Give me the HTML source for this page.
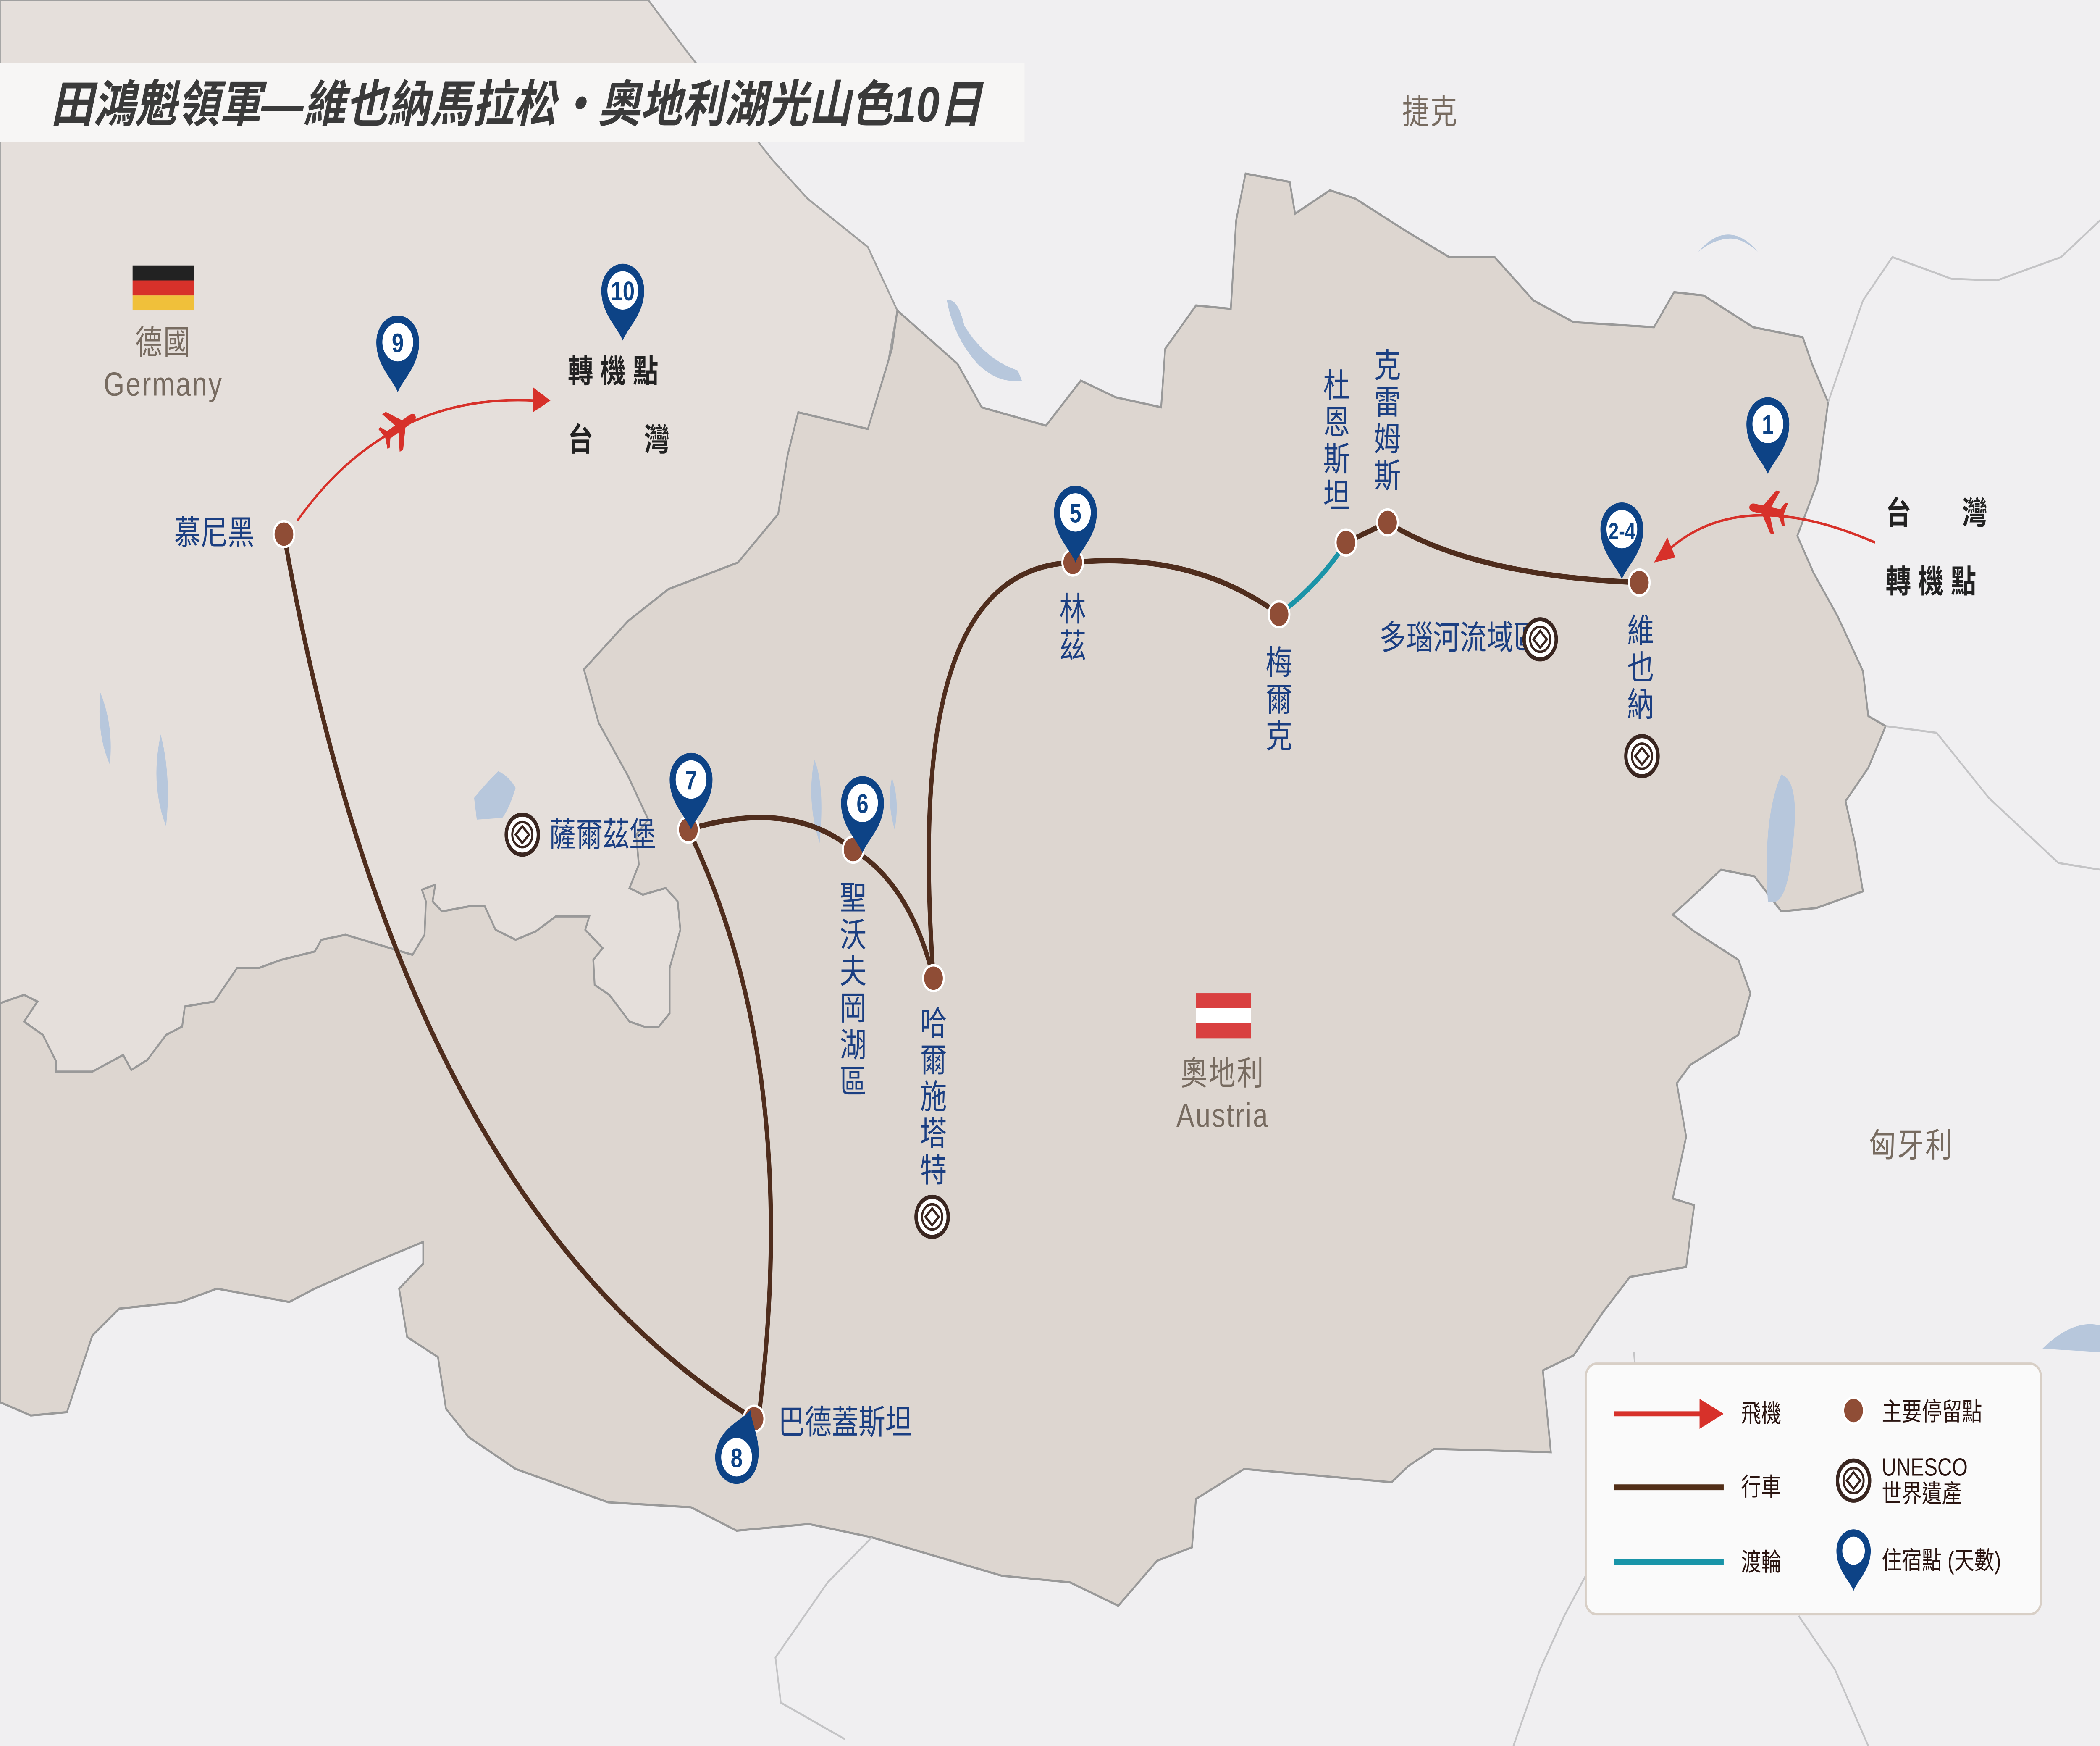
<!DOCTYPE html>
<html><head><meta charset="utf-8"><style>
html,body{margin:0;padding:0;background:#f0eff1;width:100%;height:100%;overflow:hidden;}
svg{display:block;position:absolute;left:0;top:0;width:100vw;height:100vh;}
text{font-family:"Liberation Sans","Noto Sans CJK TC",sans-serif;}
.b{fill:#1b3f82;font-size:20px;}
.g{fill:#776b60;font-size:20px;letter-spacing:1px;}
.k{fill:#222;font-size:19px;font-weight:bold;}
.lg{fill:#2a1410;font-size:15px;}
</style></head><body>
<svg viewBox="0 0 1568 1046" preserveAspectRatio="none" xmlns="http://www.w3.org/2000/svg">
<defs>
<g id="pin"><path d="M0,30 C-4,22 -16,14 -16,0 A16,16 0 1,1 16,0 C16,14 4,22 0,30 Z" fill="#0d4386"/><circle r="11.5" fill="#fff"/></g>
<g id="dot"><circle r="8.5" fill="#fff"/><circle r="7" fill="#8f4d36"/></g>
<g id="un"><circle r="12" fill="#fff" stroke="#3a2620" stroke-width="2.5"/><circle r="7.5" fill="none" stroke="#3a2620" stroke-width="1.5"/><path d="M0,-5 L5,0 L0,5 L-5,0Z" fill="none" stroke="#3a2620" stroke-width="1.5"/></g>
<path id="plane" d="M14,0 C14,-2 12,-2.5 10,-2.5 L4,-2.5 L-4,-13 L-7,-13 L-2,-2.5 L-9,-2.5 L-12,-7 L-14,-7 L-12,0 L-14,7 L-12,7 L-9,2.5 L-2,2.5 L-7,13 L-4,13 L4,2.5 L10,2.5 C12,2.5 14,2 14,0Z" fill="#d7312a"/>
</defs>
<rect width="1568" height="1046" fill="#f0eff1"/>
<!-- Germany -->
<path d="M0,0 L484,0 L514,32 L577,96 L603,119 L648,148 L670,186 L600,500 L530,650 L0,650Z" fill="#e5dfdb" stroke="#a0a0a0" stroke-width="1.2"/>
<!-- Austria -->
<path d="M0,601 L18,596 L28,600 L18,612 L32,620 L42,636 L42,642 L69,642 L92,632 L98,641 L110,635 L124,620 L136,615 L138,603 L160,600 L177,580 L193,580 L210,575 L235,570 L240,563 L258,560 L308,572 L317,560 L318,540 L315,533 L325,530 L323,540 L330,546 L350,543 L362,543 L370,557 L385,563 L400,558 L415,549 L440,549 L437,557 L450,568 L443,575 L444,590 L455,596 L470,612 L481,615 L492,615 L500,607 L500,580 L508,557 L506,540 L497,532 L480,536 L470,532 L477,518 L475,500 L484,491 L469,465 L447,433 L436,401 L469,372 L499,353 L551,337 L581,308 L588,273 L596,247 L648,257 L666,209 L670,186 L715,218 L733,244 L781,255 L807,228 L833,238 L867,244 L870,209 L893,183 L919,185 L923,132 L930,104 L963,109 L967,128 L993,114 L1012,119 L1049,138 L1082,154 L1116,154 L1145,180 L1175,193 L1235,196 L1250,175 L1272,177 L1309,196 L1346,202 L1353,218 L1365,241 L1357,289 L1342,321 L1354,343 L1372,369 L1391,402 L1395,429 L1408,435 L1395,460 L1378,480 L1385,505 L1391,534 L1356,544 L1330,546 L1310,525 L1285,521 L1268,534 L1249,548 L1265,558 L1298,575 L1307,595 L1298,620 L1262,638 L1252,649 L1259,681 L1249,718 L1265,722 L1259,759 L1217,765 L1197,786 L1175,812 L1152,821 L1158,870 L1071,868 L1052,878 L1039,888 L929,880 L893,898 L890,927 L864,935 L835,962 L799,948 L748,944 L651,921 L604,913 L550,917 L516,903 L454,900 L385,880 L350,861 L333,844 L327,813 L304,801 L298,772 L316,757 L316,744 L277,757 L235,772 L216,780 L162,772 L135,780 L89,784 L69,800 L50,846 L23,848 L0,840Z" fill="#ddd6d0" stroke="#999" stroke-width="1.3"/>
<!-- neighbour borders -->
<g fill="none" stroke="#c4c4c6" stroke-width="1.2">
<path d="M1365,241 L1391,180 L1413,154 L1457,167 L1491,168 L1539,154 L1568,132"/>
<path d="M1408,435 L1446,439 L1485,478 L1537,517 L1568,521"/>
<path d="M1220,810 L1225,860 L1200,920 L1168,968 L1150,1000 L1130,1046"/>
<path d="M1343,968 L1370,1000 L1395,1046"/>
<path d="M651,921 L618,948 L579,993 L583,1020 L631,1042"/>
</g>
<!-- lakes -->
<g fill="#b7c7dc">
<path d="M707,180 Q715,178 720,195 Q735,215 760,222 L763,228 Q745,230 730,218 Q712,202 707,180Z"/>
<path d="M1268,151 Q1290,130 1313,151 Q1300,142 1290,143 Q1278,144 1268,151Z"/>
<path d="M75,415 Q85,435 82,458 Q72,440 75,415Z"/>
<path d="M120,440 Q128,465 124,495 Q112,470 120,440Z"/>
<path d="M354,478 Q362,470 372,462 Q380,465 385,472 Q380,485 375,490 L356,491Z"/>
<path d="M608,455 Q616,470 612,505 Q602,480 608,455Z"/>
<path d="M666,466 Q672,480 668,497 Q662,480 666,466Z"/>
<path d="M1330,464 Q1345,468 1338,510 Q1334,545 1320,540 Q1316,490 1330,464Z"/>
<path d="M1525,808 Q1548,790 1568,794 L1568,810Z"/>
</g>
<!-- routes -->
<g fill="none" stroke="#4f2d1d" stroke-width="3.2">
<path d="M212,320 Q300,720 563,850"/>
<path d="M514,497 Q600,640 566,852"/>
<path d="M514,497 Q590,478 637,509"/>
<path d="M637,509 Q680,530 697,586"/>
<path d="M697,586 C685,450 700,340 801,337"/>
<path d="M801,337 Q890,330 955,368"/>
<path d="M1005,325 L1036,313"/>
<path d="M1036,313 Q1100,345 1224,349"/>
</g>
<path d="M955,368 Q985,350 1005,325" fill="none" stroke="#1b94a8" stroke-width="3.2"/>
<path d="M222,312 Q290,235 400,240" fill="none" stroke="#d7312a" stroke-width="1.5"/>
<path d="M398,232 L411,240 L398,247Z" fill="#d7312a"/>
<path d="M1400,325 Q1300,290 1245,330" fill="none" stroke="#d7312a" stroke-width="1.5"/>
<path d="M1235,337 L1245,322 L1251,334Z" fill="#d7312a"/>
<use href="#plane" transform="translate(298,256) rotate(-30)"/>
<use href="#plane" transform="translate(1320,306) rotate(190)"/>
<use href="#dot" x="212" y="320"/><use href="#dot" x="514" y="497"/><use href="#dot" x="637" y="509"/><use href="#dot" x="697" y="586"/><use href="#dot" x="801" y="337"/><use href="#dot" x="955" y="368"/><use href="#dot" x="1005" y="325"/><use href="#dot" x="1036" y="313"/><use href="#dot" x="1224" y="349"/><use href="#dot" x="563" y="850"/>
<g font-weight="bold" font-size="16" fill="#0d4386" text-anchor="middle">
<use href="#pin" x="1320" y="254"/><text x="1320" y="260">1</text>
<use href="#pin" x="1211" y="317"/><text x="1211" y="323" font-size="14">2-4</text>
<use href="#pin" x="803" y="307"/><text x="803" y="313">5</text>
<use href="#pin" x="644" y="481"/><text x="644" y="487">6</text>
<use href="#pin" x="516" y="467"/><text x="516" y="473">7</text>
<use href="#pin" x="297" y="205"/><text x="297" y="211">9</text>
<use href="#pin" x="465" y="174"/><text x="465" y="180">10</text>
<g transform="translate(550,873) rotate(200)"><use href="#pin"/></g><text x="550" y="879">8</text>
</g>
<rect x="0" y="38" width="765" height="47" fill="#f7f6f5"/>
<text x="38" y="73" font-family="'Liberation Serif','Noto Serif CJK SC',serif" font-style="italic" font-weight="bold" font-size="30" fill="#3a3a3a" textLength="695" lengthAdjust="spacingAndGlyphs">田鴻魁領軍—維也納馬拉松‧奧地利湖光山色10日</text>
<rect x="99" y="159" width="46" height="9" fill="#222"/><rect x="99" y="168" width="46" height="9" fill="#d7312a"/><rect x="99" y="177" width="46" height="9" fill="#f0c03a"/>
<rect x="893" y="595" width="41" height="9" fill="#d94040"/><rect x="893" y="604" width="41" height="9" fill="#fff"/><rect x="893" y="613" width="41" height="9" fill="#d94040"/>
<text class="g" x="122" y="212" text-anchor="middle">德國</text>
<text class="g" x="122" y="237" text-anchor="middle">Germany</text>
<text class="g" x="913" y="650" text-anchor="middle">奧地利</text>
<text class="g" x="913" y="675" text-anchor="middle">Austria</text>
<text class="g" x="1068" y="74" text-anchor="middle" fill="#999">捷克</text>
<text class="g" x="1427" y="693" text-anchor="middle" fill="#999">匈牙利</text>
<text class="k" x="424" y="229">轉 機 點</text><text class="k" x="424" y="270">台　　灣</text>
<text class="k" x="1408" y="314">台　　灣</text><text class="k" x="1408" y="355">轉 機 點</text>
<text class="b" x="130" y="326">慕尼黑</text>
<text class="b" x="410" y="507">薩爾茲堡</text><use href="#un" x="390" y="500"/>
<text class="b" x="581" y="859">巴德蓋斯坦</text>
<text class="b" x="1030" y="389" font-size="16" fill="#222">多瑙河流域區</text><use href="#un" x="1150" y="383"/>
<g class="b" text-anchor="middle">
<text x="637" y="545">聖</text><text x="637" y="567">沃</text><text x="637" y="589">夫</text><text x="637" y="611">岡</text><text x="637" y="633">湖</text><text x="637" y="655">區</text>
<text x="697" y="620">哈</text><text x="697" y="642">爾</text><text x="697" y="664">施</text><text x="697" y="686">塔</text><text x="697" y="708">特</text>
<text x="801" y="372">林</text><text x="801" y="394">茲</text>
<text x="955" y="404">梅</text><text x="955" y="426">爾</text><text x="955" y="448">克</text>
<text x="998" y="238">杜</text><text x="998" y="260">恩</text><text x="998" y="282">斯</text><text x="998" y="304">坦</text>
<text x="1036" y="226">克</text><text x="1036" y="248">雷</text><text x="1036" y="270">姆</text><text x="1036" y="292">斯</text>
<text x="1225" y="385">維</text><text x="1225" y="407">也</text><text x="1225" y="429">納</text>
</g>
<use href="#un" x="696" y="729"/><use href="#un" x="1226" y="453"/>
<rect x="1184" y="817" width="340" height="150" rx="8" fill="#fafafa" stroke="#d8cfc6" stroke-width="1.5"/>
<line x1="1205" y1="847" x2="1275" y2="847" stroke="#d7312a" stroke-width="3"/><path d="M1269,838 L1287,847 L1269,856Z" fill="#d7312a"/>
<line x1="1205" y1="891" x2="1287" y2="891" stroke="#522e17" stroke-width="3.5"/>
<line x1="1205" y1="936" x2="1287" y2="936" stroke="#1894a8" stroke-width="3.5"/>
<text class="lg" x="1300" y="852">飛機</text><text class="lg" x="1300" y="896">行車</text><text class="lg" x="1300" y="941">渡輪</text>
<use href="#dot" x="1384" y="845"/><text class="lg" x="1405" y="851">主要停留點</text>
<use href="#un" x="1384" y="887"/><text class="lg" x="1405" y="884" font-size="14">UNESCO</text><text class="lg" x="1405" y="900" font-size="14">世界遺產</text>
<g transform="translate(1384,929) scale(0.8)"><path d="M0,30 C-4,22 -16,14 -16,0 A16,16 0 1,1 16,0 C16,14 4,22 0,30 Z" fill="#0d4386"/><circle r="10.5" fill="#fff"/></g>
<text class="lg" x="1405" y="940">住宿點 (天數)</text>
</svg>
</body></html>
